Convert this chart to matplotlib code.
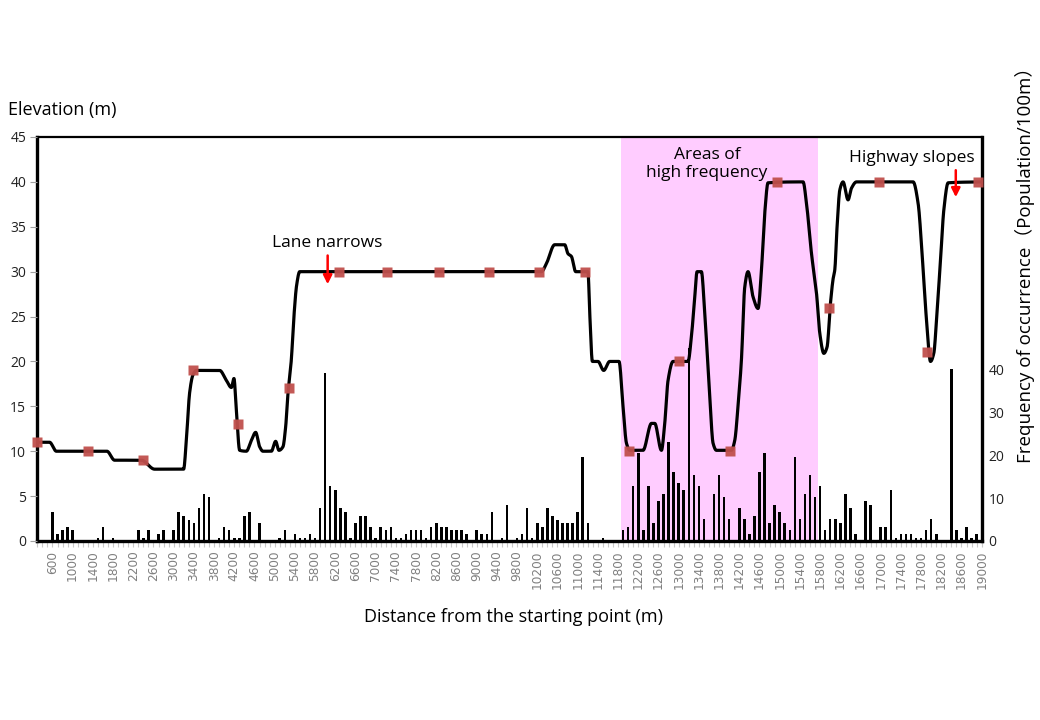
import numpy as np
import matplotlib
matplotlib.use("Agg")
import matplotlib.pyplot as plt
from matplotlib.ticker import FixedLocator, MultipleLocator

plt.rcParams['font.family'] = ['Open Sans', 'Noto Sans CJK SC', 'DejaVu Sans']

# ---------------- data ----------------
# frequency of occurrence (population / 100 m), one bar every 100 m from 600 m
freq_start = 600
freq_step = 100
freq_values = [
    6.7, 1.6, 2.6, 3.3, 2.6, 0, 0, 0, 0, 0.7,            # 600-1500
    3.3, 0, 0.7, 0, 0, 0, 0, 2.6, 0.7, 2.6,              # 1600-2500
    0, 1.6, 2.6, 0, 2.6, 6.7, 5.8, 5.0, 4.2, 7.7,        # 2600-3500
    10.9, 10.2, 0, 0.7, 3.3, 2.6, 0.7, 0.7, 5.8, 6.7,    # 3600-4500
    0, 4.2, 0, 0, 0, 0.7, 2.6, 0, 1.6, 0.7,              # 4600-5500
    0.7, 1.6, 0.7, 7.7, 39, 12.8, 11.9, 7.7, 6.7, 0.7,   # 5600-6500
    4.2, 5.8, 5.8, 3.3, 0.7, 3.3, 2.6, 3.3, 0.7, 0.7,    # 6600-7500
    1.6, 2.6, 2.6, 2.6, 0.7, 3.3, 4.2, 3.3, 3.3, 2.6,    # 7600-8500
    2.6, 2.6, 1.6, 0, 2.6, 1.6, 1.6, 6.7, 0, 0.7,        # 8600-9500
    8.4, 0, 0.7, 1.6, 7.7, 0.7, 4.2, 3.3, 7.7, 5.8,      # 9600-10500
    5.0, 4.2, 4.2, 4.2, 6.7, 19.5, 4.2, 0, 0, 0.7,       # 10600-11500
    0, 0, 0, 2.6, 3.3, 12.8, 20.5, 2.6, 12.8, 4.2,       # 11600-12500
    9.3, 10.9, 23, 16, 13.5, 11.9, 45, 15.3, 12.8, 5.1,  # 12600-13500
    0, 10.9, 15.3, 10.2, 5.1, 0, 7.7, 5.1, 1.6, 5.8,     # 13600-14500
    16, 20.5, 4.2, 8.4, 6.7, 4.2, 2.6, 19.5, 5.1, 10.9,  # 14600-15500
    15.3, 10.2, 12.8, 2.6, 5.1, 5.1, 4.2, 10.9, 7.7, 1.6,  # 15600-16500
    0, 9.3, 8.4, 0, 3.3, 3.3, 11.9, 0.6, 1.6, 1.6,       # 16600-17500
    1.6, 0.6, 0.6, 2.6, 5.1, 1.6, 0, 0, 40, 2.6,         # 17600-18500
    0.6, 3.3, 0.6, 1.6,                                  # 18600-18900
]
freq_dist = freq_start + freq_step * np.arange(len(freq_values))

# elevation profile (distance m, elevation m)
elev_dist = [0, 248, 384, 1405, 1560, 2099, 2368, 2953, 3008, 3074,
             3141, 3210, 3680, 3815, 3916, 3969, 4017, 4084, 4219, 4320,
             4407, 4487, 4554, 4724, 4810, 4877, 4958, 5012, 5059, 5127,
             5174, 5234, 5295, 10174, 10275, 10442, 10644, 10711, 10779, 10866,
             11114, 11149, 11203, 11316, 11431, 11552, 11740, 11821, 11890, 11957,
             12225, 12395, 12461, 12596, 12663, 12730, 12831, 13134, 13202, 13269,
             13315, 13403, 13470, 13571, 13638, 13706, 14009, 14076, 14142, 14211,
             14278, 14344, 14445, 14546, 14615, 14681, 14748, 15455, 15524, 15625,
             15726, 15793, 15874, 15939, 16008, 16061, 16095, 16141, 16196, 16262,
             16363, 16432, 16533, 17676, 17777, 17865, 17946, 18027, 18093, 18160,
             18229, 18296, 18383, 19060]
elev_m = [11.0, 11.0, 10.0, 10.0, 9.0, 9.0, 8.0, 8.0, 11.2, 16.5,
          18.5, 19.0, 19.0, 17.9, 17.1, 18.1, 14.6, 10.1, 10.0, 11.2,
          12.1, 10.5, 10.0, 10.0, 11.1, 10.1, 10.5, 12.7, 16.4, 20.2,
          24.6, 28.5, 30.0, 30.0, 30.9, 33.0, 33.0, 32.0, 31.7, 30.0,
          30.0, 25.4, 20.0, 20.0, 19.0, 20.0, 20.0, 15.0, 10.9, 10.1,
          10.1, 13.1, 13.1, 10.1, 13.1, 17.9, 20.0, 20.0, 22.8, 27.2,
          30.0, 30.0, 25.4, 16.1, 10.9, 10.1, 10.1, 11.2, 15.0, 20.2,
          28.3, 30.0, 27.2, 25.9, 30.2, 36.5, 39.9, 40.0, 37.6, 32.0,
          27.6, 23.1, 20.9, 21.6, 26.5, 29.2, 30.2, 35.0, 39.1, 40.0,
          38.0, 39.3, 40.0, 40.0, 37.6, 31.3, 24.6, 20.0, 20.9, 25.7,
          31.3, 36.9, 39.9, 40.0]

# surveyed points (red squares)
mark_dist = [0, 1020, 2130, 3150, 4050, 5080, 6080, 7050, 8100, 9110,
             10120, 11050, 11940, 12950, 13990, 14930, 15980, 16990, 17960, 18990]
mark_m = [11, 10, 9, 19, 13, 17, 30, 30, 30, 30,
          30, 30, 10, 20, 10, 40, 26, 40, 21, 40]

xtick_labels = list(range(600, 19001, 400))
left_ticks = list(range(0, 46, 5))
right_ticks = [0, 10, 20, 30, 40]

high_freq_zone = (11850, 15750)


def pchip(x, y, xs):
    x = np.asarray(x, float); y = np.asarray(y, float)
    h = np.diff(x); d = np.diff(y) / h
    n = len(x)
    m = np.zeros(n)
    m[0] = d[0]; m[-1] = d[-1]
    for k in range(1, n - 1):
        if d[k - 1] * d[k] <= 0:
            m[k] = 0.0
        else:
            w1 = 2 * h[k] + h[k - 1]
            w2 = h[k] + 2 * h[k - 1]
            m[k] = (w1 + w2) / (w1 / d[k - 1] + w2 / d[k])
    idx = np.clip(np.searchsorted(x, xs) - 1, 0, n - 2)
    t = (xs - x[idx]) / h[idx]
    h00 = 2 * t**3 - 3 * t**2 + 1
    h10 = t**3 - 2 * t**2 + t
    h01 = -2 * t**3 + 3 * t**2
    h11 = t**3 - t**2
    return h00 * y[idx] + h10 * h[idx] * m[idx] + h01 * y[idx + 1] + h11 * h[idx] * m[idx + 1]


# ---------------- figure ----------------
fig = plt.figure(figsize=(10.4, 7.2), dpi=100)
pos = [37.3 / 1040, 1 - 541 / 720, (981.7 - 37.3) / 1040, (541 - 137) / 720]

ax_b = fig.add_axes(pos)
ax_l = fig.add_axes(pos)
ax_l.patch.set_visible(False)

# bars axis (bottom)
ax_b.axvspan(*high_freq_zone, color='#FFCCFF', zorder=0, lw=0)
ax_b.bar(freq_dist, freq_values, width=50, color='black', zorder=2)
ax_b.set_xlim(300, 19000)
ax_b.set_ylim(0, 94)
ax_b.yaxis.tick_right()
ax_b.set_yticks(right_ticks)
ax_b.tick_params(axis='y', length=0, pad=5, labelsize=10, labelcolor='#222222')
ax_b.xaxis.set_major_locator(FixedLocator(xtick_labels))
ax_b.set_xticklabels([str(v) for v in xtick_labels], rotation=90,
                     fontsize=8.7, color='#808080', family='DejaVu Sans')
ax_b.xaxis.set_minor_locator(MultipleLocator(100))
ax_b.tick_params(axis='x', which='both', length=4, color='#c8c8c8', width=0.8, pad=3)
for s in ['left', 'right', 'bottom']:
    ax_b.spines[s].set_linewidth(2.4)
    ax_b.spines[s].set_color('black')
ax_b.spines['top'].set_linewidth(1.6)
ax_b.spines['top'].set_color('black')

# elevation axis (top)
xs = np.linspace(elev_dist[0], elev_dist[-1], 4000)
ax_l.plot(xs, pchip(elev_dist, elev_m, xs), color='black', lw=2.3,
          solid_capstyle='round', zorder=3)
ax_l.plot(mark_dist, mark_m, 's', color='#C0504D', ms=6.5, mec='none',
          alpha=0.95, zorder=4, clip_on=False)
ax_l.set_xlim(0, 19060)
ax_l.set_ylim(0, 45)
ax_l.set_yticks(left_ticks)
ax_l.tick_params(axis='y', length=5, color='#a0a0a0', width=0.8, labelsize=10,
                 labelcolor='#222222', pad=3)
ax_l.set_xticks([])
for s in ax_l.spines.values():
    s.set_visible(False)

# annotations
arrow_kw = dict(arrowstyle='-|>', color='red', lw=1.8, mutation_scale=13,
                shrinkA=0, shrinkB=0)
ax_l.text(5860, 33.2, 'Lane narrows', ha='center', va='center', fontsize=12.5)
ax_l.annotate('', xy=(5860, 28.6), xytext=(5860, 31.8), arrowprops=arrow_kw)
ax_l.text(13514, 42.0, 'Areas of\nhigh frequency', ha='center', va='center',
          fontsize=12.5, linespacing=1.2)
ax_l.text(17650, 42.7, 'Highway slopes', ha='center', va='center', fontsize=12.5)
ax_l.annotate('', xy=(18537, 38.3), xytext=(18537, 41.3), arrowprops=arrow_kw)

# axis titles
fig.text(8 / 1040, 1 - 110 / 720, 'Elevation (m)', ha='left', va='center', fontsize=13)
fig.text(513 / 1040, 1 - 617 / 720, 'Distance from the starting point (m)',
         ha='center', va='center', fontsize=13)
fig.text(1025 / 1040, 1 - 260 / 720, 'Frequency of occurrence（Population/100m）',
         ha='center', va='center', rotation=90, fontsize=13.5)

fig.savefig('out.png', dpi=100)
